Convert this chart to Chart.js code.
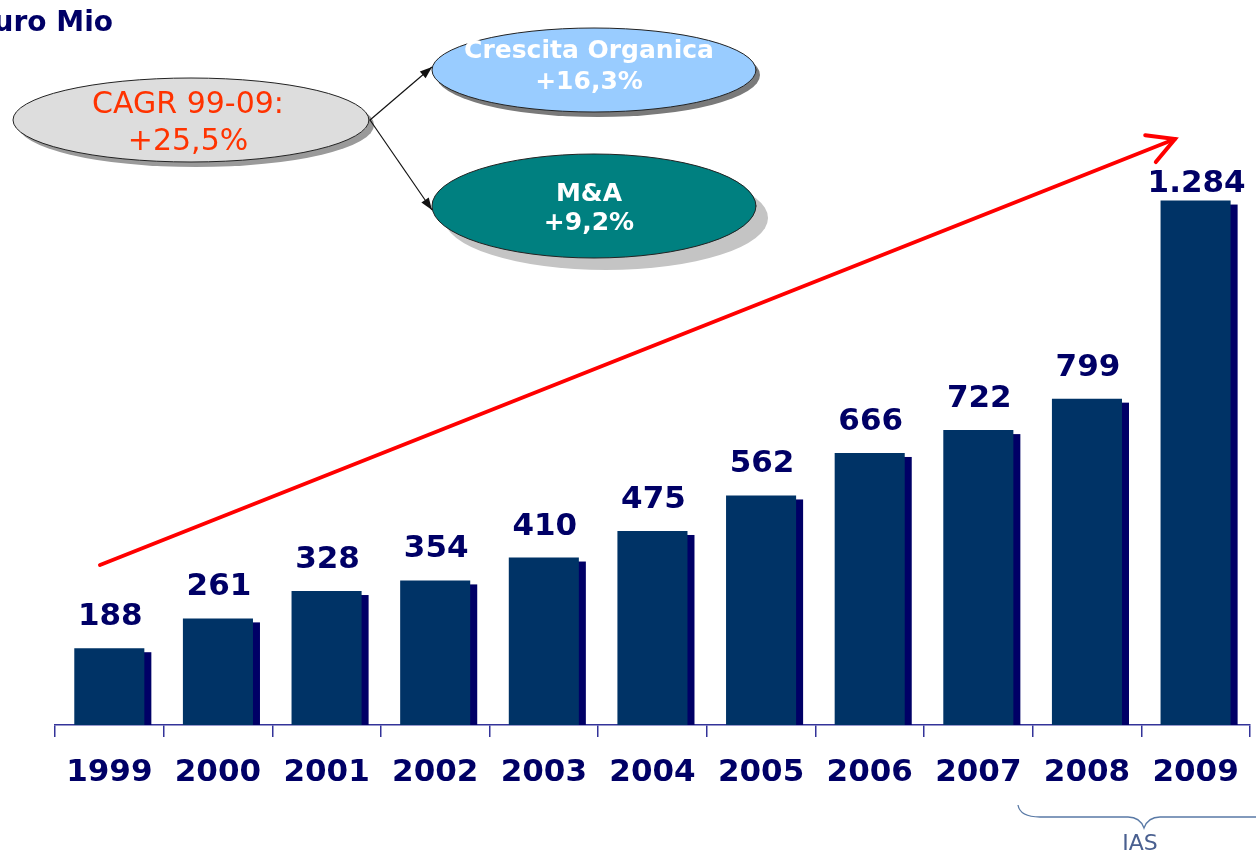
<!DOCTYPE html>
<html lang="it">
  <head>
    <meta charset="UTF-8" />
    <title>Ricavi Euro Mio 1999-2009</title>
    <script src="https://cdn.jsdelivr.net/npm/chart.js"></script>
    <style>
      body { margin: 0; background: #fff; }
      canvas { display: block; }
    </style>
  </head>
  <body>
    <canvas id="revChart" width="1256" height="850"></canvas>
    <script>
      const years = ["1999", "2000", "2001", "2002", "2003", "2004", "2005", "2006", "2007", "2008", "2009"];
      const revenue = [188, 261, 328, 354, 410, 475, 562, 666, 722, 799, 1284];

      const NAVY = "#000066";
      const FONT = "'DejaVu Sans', Verdana, sans-serif";

      function fmt(n) {
        return String(n).replace(/\B(?=(\d{3})+(?!\d))/g, ".");
      }

      // dark offset block behind each bar
      const barShadow = {
        id: "barShadow",
        beforeDatasetsDraw(chart) {
          const ctx = chart.ctx;
          ctx.save();
          ctx.fillStyle = "#000066";
          chart.getDatasetMeta(0).data.forEach((bar) => {
            const w = bar.width;
            ctx.fillRect(bar.x - w / 2 + 7, bar.y + 4, w, bar.base - bar.y - 4);
          });
          ctx.restore();
        },
      };

      const valueLabels = {
        id: "valueLabels",
        afterDatasetsDraw(chart) {
          const ctx = chart.ctx;
          ctx.save();
          ctx.font = "bold 31px " + FONT;
          ctx.fillStyle = NAVY;
          ctx.textAlign = "center";
          ctx.textBaseline = "alphabetic";
          chart.getDatasetMeta(0).data.forEach((bar, i) => {
            const y = Math.max(bar.y - 23, 192);
            ctx.fillText(fmt(revenue[i]), bar.x + 1, y);
          });
          ctx.restore();
        },
      };

      function ellipse(ctx, cx, cy, rx, ry, fill, stroke) {
        ctx.beginPath();
        ctx.ellipse(cx, cy, rx, ry, 0, 0, Math.PI * 2);
        ctx.fillStyle = fill;
        ctx.fill();
        if (stroke) {
          ctx.strokeStyle = stroke;
          ctx.lineWidth = 1;
          ctx.stroke();
        }
      }

      function arrowLine(ctx, x1, y1, x2, y2) {
        const a = Math.atan2(y2 - y1, x2 - x1);
        ctx.beginPath();
        ctx.moveTo(x1, y1);
        ctx.lineTo(x2, y2);
        ctx.stroke();
        ctx.beginPath();
        ctx.moveTo(x2, y2);
        ctx.lineTo(x2 - 13 * Math.cos(a - 0.35), y2 - 13 * Math.sin(a - 0.35));
        ctx.lineTo(x2 - 13 * Math.cos(a + 0.35), y2 - 13 * Math.sin(a + 0.35));
        ctx.closePath();
        ctx.fill();
      }

      const decorations = {
        id: "decorations",
        afterDraw(chart) {
          const ctx = chart.ctx;
          ctx.save();

          // title (cut at left edge)
          ctx.font = "bold 28px " + FONT;
          ctx.fillStyle = NAVY;
          ctx.textAlign = "right";
          ctx.fillText("Euro Mio", 113, 31);

          // growth arrow
          ctx.strokeStyle = "#ff0000";
          ctx.lineWidth = 4;
          ctx.lineCap = "round";
          ctx.beginPath();
          ctx.moveTo(100, 565);
          ctx.lineTo(1175, 139);
          ctx.stroke();
          const a = Math.atan2(139 - 565, 1175 - 100);
          ctx.beginPath();
          ctx.moveTo(1175 - 30 * Math.cos(a - 0.5), 139 - 30 * Math.sin(a - 0.5));
          ctx.lineTo(1175, 139);
          ctx.lineTo(1175 - 30 * Math.cos(a + 0.5), 139 - 30 * Math.sin(a + 0.5));
          ctx.stroke();

          // shadows
          ellipse(ctx, 196, 125, 178, 42, "#9a9a9a");
          ellipse(ctx, 598, 75, 162, 42, "#7a7a7a");
          ellipse(ctx, 606, 218, 162, 52, "#c4c4c4");

          // ellipses
          ellipse(ctx, 191, 120, 178, 42, "#dddddd", "#222");
          ellipse(ctx, 594, 70, 162, 42, "#99ccff", "#222");
          ellipse(ctx, 594, 206, 162, 52, "#008080", "#222");

          // connectors
          ctx.strokeStyle = "#111";
          ctx.fillStyle = "#111";
          ctx.lineWidth = 1.2;
          ctx.lineCap = "butt";
          arrowLine(ctx, 370, 120, 432, 67);
          arrowLine(ctx, 370, 120, 432, 210);

          ctx.textAlign = "center";
          ctx.font = "30px " + FONT;
          ctx.fillStyle = "#ff3300";
          ctx.fillText("CAGR 99-09:", 188, 113);
          ctx.fillText("+25,5%", 188, 150);

          ctx.font = "bold 25px " + FONT;
          ctx.fillStyle = "#ffffff";
          ctx.fillText("Crescita Organica", 589, 58);
          ctx.fillText("+16,3%", 589, 89);
          ctx.fillText("M&A", 589, 201);
          ctx.fillText("+9,2%", 589, 230);

          // IAS brace
          ctx.strokeStyle = "#5a7aa6";
          ctx.lineWidth = 1.3;
          ctx.beginPath();
          ctx.moveTo(1018, 805);
          ctx.quadraticCurveTo(1020, 817, 1040, 817);
          ctx.lineTo(1128, 817);
          ctx.quadraticCurveTo(1140, 817, 1144, 828);
          ctx.quadraticCurveTo(1148, 817, 1160, 817);
          ctx.lineTo(1260, 817);
          ctx.stroke();
          ctx.font = "22px " + FONT;
          ctx.fillStyle = "#4a6090";
          ctx.fillText("IAS", 1140, 850);

          ctx.restore();
        },
      };

      new Chart(document.getElementById("revChart"), {
        type: "bar",
        data: {
          labels: years,
          datasets: [
            {
              data: revenue,
              backgroundColor: "#003366",
              barPercentage: 0.645,
              categoryPercentage: 1,
            },
          ],
        },
        options: {
          responsive: false,
          animation: false,
          layout: { padding: { left: 55, right: 6, top: 0, bottom: 0 } },
          plugins: { legend: { display: false }, tooltip: { enabled: false } },
          scales: {
            y: { display: false, min: 0, max: 1775 },
            x: {
              afterFit: (s) => {
                s.height = 125;
              },
              border: { display: true, color: "#333399", width: 1.5 },
              grid: {
                offset: true,
                drawOnChartArea: false,
                drawTicks: true,
                tickLength: 12,
                color: "#333399",
                lineWidth: 1.5,
              },
              ticks: {
                color: NAVY,
                padding: 17,
                font: { family: FONT, size: 31, weight: "bold" },
              },
            },
          },
        },
        plugins: [barShadow, valueLabels, decorations],
      });
    </script>
  </body>
</html>
